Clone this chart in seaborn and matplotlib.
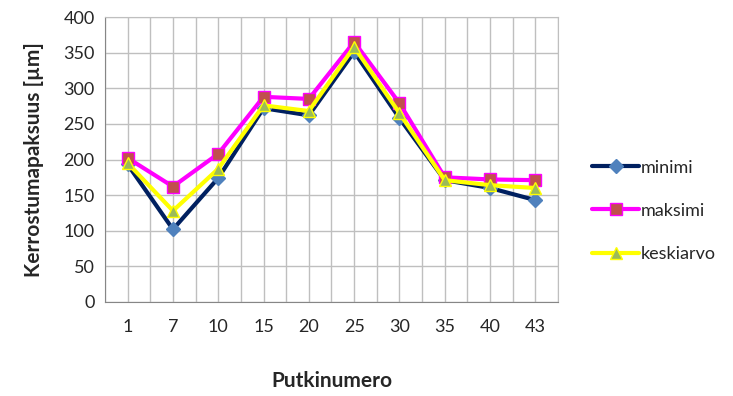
import numpy as np
import pandas as pd
import matplotlib
matplotlib.use("Agg")
import matplotlib.pyplot as plt
import seaborn as sns

putket = ["1", "7", "10", "15", "20", "25", "30", "35", "40", "43"]
minimi = [193, 102, 174, 272, 262, 351, 258, 171, 160, 143]
maksimi = [202, 162, 208, 288, 285, 365, 279, 175, 172, 171]
keskiarvo = [195, 128, 187, 276, 268, 358, 265, 171, 164, 160]

sns.set_style("white")
plt.rcParams['font.family'] = ['Lato', 'DejaVu Sans']

fig = plt.figure(figsize=(7.33, 3.96), dpi=100)
ax = fig.add_axes([105/733, 1-302/396, 453/733, 285/396])

pos = np.arange(len(putket))
series = [
    ("minimi", minimi, "#002060", "D", "#4F81BD", "#4F81BD", 7),
    ("maksimi", maksimi, "#FF00FF", "s", "#C0504D", "#FF00FF", 8),
    ("keskiarvo", keskiarvo, "#FFFF00", "^", "#9BBB59", "#FFFF00", 9),
]
for name, vals, lc, mk, mfc, mec, ms in series:
    df = pd.DataFrame({"x": pos, "y": vals})
    sns.lineplot(data=df, x="x", y="y", ax=ax, color=lc, lw=3, marker=mk,
                 markerfacecolor=mfc, markeredgecolor=mec, markersize=ms,
                 markeredgewidth=1, label=name)

ax.set_xlim(-0.5, len(putket) - 0.5)
ax.set_ylim(0, 400)
ax.set_yticks(range(0, 401, 50))
ax.set_xticks(np.arange(-0.5, len(putket), 1.0))
ax.set_xticklabels([])
ax.set_xticks(pos, minor=True)
ax.set_xticklabels(putket, minor=True)
ax.tick_params(axis="x", which="major", length=6, color="#868686", direction="out")
ax.tick_params(axis="x", which="minor", length=0, pad=12, labelsize=13)
ax.tick_params(axis="y", length=4, color="#868686", direction="out", labelsize=13)
ax.grid(True, axis="both", which="major", color="#BFBFBF", lw=1)
ax.grid(True, axis="x", which="minor", color="#BFBFBF", lw=1)
ax.set_axisbelow(True)
for s in ["top", "right"]:
    ax.spines[s].set_color("#BFBFBF")
for s in ["left", "bottom"]:
    ax.spines[s].set_color("#868686")

ax.set_xlabel("Putkinumero", fontsize=15, fontweight="bold", labelpad=26)
ax.set_ylabel("Kerrostumapaksuus [µm]", fontsize=15, fontweight="bold", labelpad=14)

ax.legend(loc="center left", bbox_to_anchor=(1.04, 0.32), frameon=False,
          fontsize=13, handlelength=2.6, labelspacing=1.5, handletextpad=0.1)

fig.savefig("out.png", dpi=100)
